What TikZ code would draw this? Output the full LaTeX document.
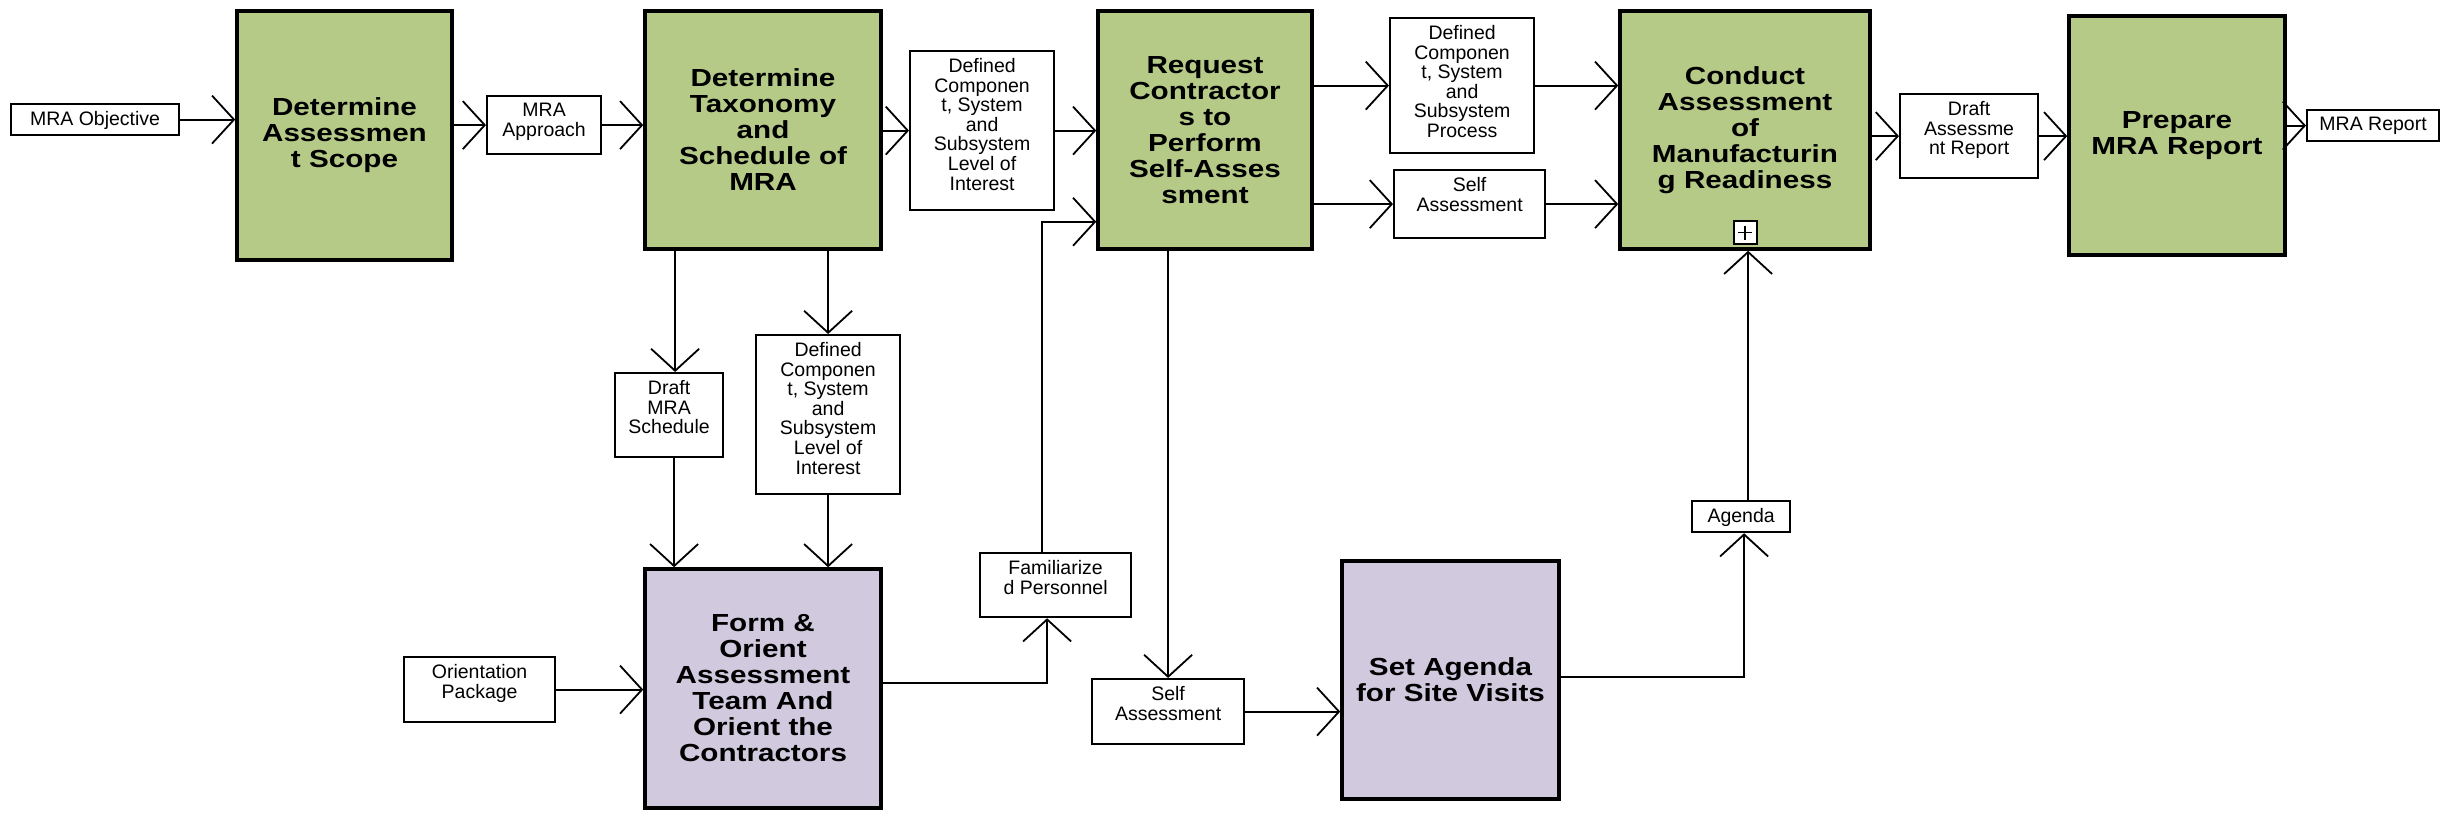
\documentclass[tikz,border=0pt]{standalone}
\usepackage{fontspec}
\setmainfont{Liberation Sans}
\newfontfamily\mainbf[FakeStretch=1.2]{Liberation Sans}
\usetikzlibrary{arrows.meta}
\definecolor{actgreen}{RGB}{182,202,136}
\definecolor{actpurple}{RGB}{209,201,222}
\tikzset{
  act/.style={draw=black, line width=1.75pt, align=center, inner sep=0pt,
    font=\mainbf\bfseries\fontsize{12.35pt}{13pt}\selectfont},
  greenact/.style={act, fill=actgreen},
  purpleact/.style={act, fill=actpurple},
  sbox/.style={draw=black, line width=1.1pt, fill=white, inner sep=0pt, anchor=north west},
  stext/.style={align=center, inner sep=0pt, anchor=north,
    font=\fontsize{9.75pt}{9.8pt}\selectfont},
  conn/.style={line width=0.9pt, -{Straight Barb[length=11pt,width=24pt]}},
}
\begin{document}
\begin{tikzpicture}[x=0.5pt,y=-0.5pt]
\useasboundingbox (0,0) rectangle (2442,816);

% activity boxes
\node[greenact, minimum width=107.5pt, minimum height=124.5pt] (a1) at (344.5,135.5) {Determine\\Assessmen\\t Scope};
\node[greenact, minimum width=118pt, minimum height=119pt] (a2) at (763,130) {Determine\\Taxonomy\\and\\Schedule of\\MRA};
\node[greenact, minimum width=107pt, minimum height=119pt] (a3) at (1205,130) {Request\\Contractor\\s to\\Perform\\Self-Asses\\sment};
\node[greenact, minimum width=125pt, minimum height=119pt] (a4) at (1745,130) {Conduct\\Assessment\\of\\Manufacturin\\g Readiness};
\node[greenact, minimum width=108pt, minimum height=119.5pt] (a5) at (2177,135.5) {Prepare\\MRA Report};
\node[purpleact, minimum width=118pt, minimum height=119.5pt] (a6) at (763,688.5) {Form \&\\Orient\\Assessment\\Team And\\Orient the\\Contractors};
\node[purpleact, minimum width=108.5pt, minimum height=119pt] (a7) at (1450.5,680) {Set Agenda\\for Site Visits};

% plus marker
\node[draw=black, line width=1pt, fill=white, minimum size=11.5pt, inner sep=0pt] (plus) at (1745,232.5) {};
\draw[line width=0.9pt] ([xshift=-3.5pt]plus.center) -- ([xshift=3.5pt]plus.center)
  ([yshift=-3.5pt]plus.center) -- ([yshift=3.5pt]plus.center);

% data boxes
\node[sbox, minimum width=84pt, minimum height=15.5pt] (mrao) at (10,103) {};
\node[stext] (mrao-t) at ([yshift=-4pt]mrao.north) {MRA Objective};
\node[sbox, minimum width=57pt, minimum height=29pt] (mraa) at (486,95) {};
\node[stext] (mraa-t) at ([yshift=-4pt]mraa.north) {MRA\\Approach};
\node[sbox, minimum width=72pt, minimum height=79.5pt] (dc1) at (909,50) {};
\node[stext] (dc1-t) at ([yshift=-4pt]dc1.north) {Defined\\Componen\\t, System\\and\\Subsystem\\Level of\\Interest};
\node[sbox, minimum width=72pt, minimum height=67.5pt] (dcp) at (1389,17) {};
\node[stext] (dcp-t) at ([yshift=-4pt]dcp.north) {Defined\\Componen\\t, System\\and\\Subsystem\\Process};
\node[sbox, minimum width=75.5pt, minimum height=34pt] (sa1) at (1393,169) {};
\node[stext] (sa1-t) at ([yshift=-4pt]sa1.north) {Self\\Assessment};
\node[sbox, minimum width=69pt, minimum height=42pt] (dar) at (1899,93) {};
\node[stext] (dar-t) at ([yshift=-4pt]dar.north) {Draft\\Assessme\\nt Report};
\node[sbox, minimum width=66pt, minimum height=15.5pt] (mrar) at (2306,109) {};
\node[stext] (mrar-t) at ([yshift=-4pt]mrar.north) {MRA Report};
\node[sbox, minimum width=54pt, minimum height=42pt] (dms) at (614,372) {};
\node[stext] (dms-t) at ([yshift=-4pt]dms.north) {Draft\\MRA\\Schedule};
\node[sbox, minimum width=72pt, minimum height=79.5pt] (dc2) at (755,334) {};
\node[stext] (dc2-t) at ([yshift=-4pt]dc2.north) {Defined\\Componen\\t, System\\and\\Subsystem\\Level of\\Interest};
\node[sbox, minimum width=75.5pt, minimum height=32pt] (fp) at (979,552) {};
\node[stext] (fp-t) at ([yshift=-4pt]fp.north) {Familiarize\\d Personnel};
\node[sbox, minimum width=75.5pt, minimum height=32.5pt] (op) at (403,656) {};
\node[stext] (op-t) at ([yshift=-4pt]op.north) {Orientation\\Package};
\node[sbox, minimum width=76pt, minimum height=32.5pt] (sa2) at (1091,678) {};
\node[stext] (sa2-t) at ([yshift=-4pt]sa2.north) {Self\\Assessment};
\node[sbox, minimum width=49pt, minimum height=15.5pt] (ag) at (1691,500) {};
\node[stext] (ag-t) at ([yshift=-4pt]ag.north) {Agenda};

% helper coordinates
\coordinate (dmsx) at ([xshift=3pt]dms.north);
\coordinate (dmsy) at ([xshift=2.5pt]dms.south);
\coordinate (fpup) at ([xshift=-6.75pt]fp.north);
\coordinate (a3in) at ([yshift=14.5pt]a3.south west);
\coordinate (a6out) at ([yshift=2.75pt]a6.east);
\coordinate (fpin) at ([xshift=-4.25pt]fp.south);
\coordinate (a7out) at ([yshift=1.5pt]a7.east);
\coordinate (agin) at ([xshift=1.5pt]ag.south);
\coordinate (agout) at ([xshift=3.5pt]ag.north);

% connectors
\draw[conn] (mrao.east) -- (mrao.east -| a1.west);
\draw[conn] (a1.east |- mraa.west) -- (mraa.west);
\draw[conn] (mraa.east) -- (mraa.east -| a2.west);
\draw[conn] (a2.east |- dc1.west) -- (dc1.west);
\draw[conn] (dc1.east) -- (dc1.east -| a3.west);
\draw[conn] (fpup) |- (a3in);
\draw[conn] (a6out) -| (fpin);
\draw[conn] (a3.east |- dcp.west) -- (dcp.west);
\draw[conn] (dcp.east) -- (dcp.east -| a4.west);
\draw[conn] (a3.east |- sa1.west) -- (sa1.west);
\draw[conn] (sa1.east) -- (sa1.east -| a4.west);
\draw[conn] (a4.east |- dar.west) -- (dar.west);
\draw[conn] (dar.east) -- (dar.east -| a5.west);
\draw[conn] (a5.east |- mrar.west) -- (mrar.west);
\draw[conn] (a2.south -| dmsx) -- (dmsx);
\draw[conn] (a2.south -| dc2.north) -- (dc2.north);
\draw[conn] (dmsy) -- (dmsy |- a6.north);
\draw[conn] (dc2.south) -- (dc2.south |- a6.north);
\draw[conn] (op.east) -- (op.east -| a6.west);
\draw[conn] (a3.south -| sa2.north) -- (sa2.north);
\draw[conn] (sa2.east) -- (sa2.east -| a7.west);
\draw[conn] (a7out) -| (agin);
\draw[conn] (agout) -- (agout |- a4.south);
\end{tikzpicture}
\end{document}
